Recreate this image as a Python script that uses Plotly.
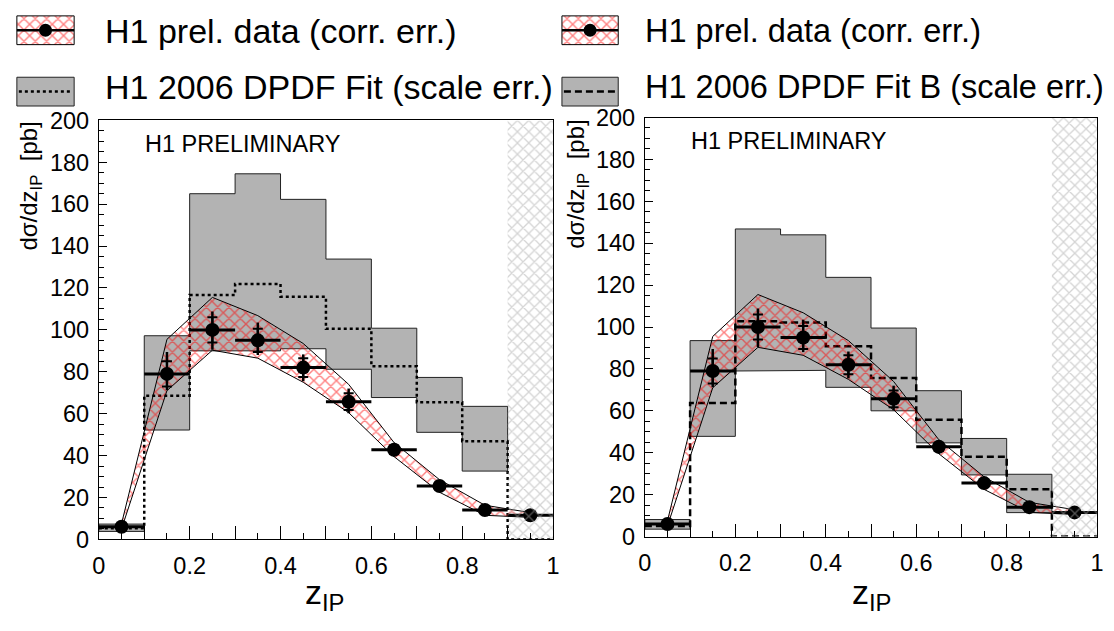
import numpy as np
import plotly.graph_objects as go

# ---------------- data ----------------
z_centers = [0.05, 0.15, 0.25, 0.35, 0.45, 0.55, 0.65, 0.75, 0.85, 0.95]
bin_halfwidth = [0.05] * 10
data_y = [6.0, 79.0, 100.0, 95.0, 82.0, 65.7, 42.8, 25.5, 14.0, 11.5]
stat_err = [0.8, 6.0, 6.0, 5.5, 4.5, 4.0, 2.0, 1.2, 0.8, 1.5]
tot_up = [1.2, 10.5, 8.8, 8.5, 6.3, 6.3, 3.3, 2.0, 1.5, 2.5]
tot_dn = [1.2, 7.8, 9.5, 7.0, 6.5, 5.5, 3.3, 2.0, 1.5, 2.5]
corr_up = [7.5, 95.5, 115.5, 106.8, 93.5, 74.0, 46.2, 28.5, 16.3, 12.8]
corr_lo = [5.0, 71.0, 90.3, 86.5, 75.0, 60.5, 39.5, 22.5, 11.5, 10.5]

# H1 2006 DPDF Fit (left panel), bins 0-0.9
fitA_up = [7.3, 97.2, 165.0, 174.5, 162.3, 133.8, 100.8, 77.3, 63.5]
fitA_lo = [3.8, 52.2, 90.0, 90.0, 91.0, 81.2, 67.7, 51.1, 32.6]
fitA_c = [5.3, 68.6, 116.6, 121.9, 115.8, 100.5, 82.7, 65.4, 46.8, 0.0]

# H1 2006 DPDF Fit B (right panel)
fitB_up = [8.1, 93.5, 146.8, 144.0, 123.7, 99.5, 69.6, 46.8, 29.7]
fitB_lo = [3.5, 47.8, 79.0, 79.3, 71.2, 60.0, 44.7, 29.4, 11.4]
fitB_c = [5.0, 63.7, 102.7, 102.2, 90.8, 75.7, 55.7, 38.1, 22.6, 0.0]

excluded_range = [0.9, 1.0]
y_range = [0, 200]

legend_data = "H1 prel. data (corr. err.)"
legend_fitA = "H1 2006 DPDF Fit (scale err.)"
legend_fitB = "H1 2006 DPDF Fit B (scale err.)"

FONT = "Liberation Sans, Arial, Helvetica, sans-serif"
GREY = "#b3b3b3"
RED_HATCH = dict(shape="x", fgcolor="#ff0000", bgcolor="rgba(0,0,0,0)", size=8, solidity=0.32)
GREY_HATCH = dict(shape="x", fgcolor="#a9a9a9", bgcolor="rgba(0,0,0,0)", size=8, solidity=0.3)

centers = np.array(z_centers)
hw = np.array(bin_halfwidth)
edges = np.round(np.append(centers - hw, centers[-1] + hw[-1]), 3)

fig = go.Figure()


def band_polygon(lo_edges, hi_edges, up, lo):
    xs, ys = [], []
    for a, b, u in zip(lo_edges, hi_edges, up):
        xs += [a, b]
        ys += [u, u]
    for a, b, l in reversed(list(zip(lo_edges, hi_edges, lo))):
        xs += [b, a]
        ys += [l, l]
    xs.append(xs[0])
    ys.append(ys[0])
    return xs, ys


def add_panel(xa, ya, f_up, f_lo, f_c, dash):
    n = len(f_up)
    bx, by = band_polygon(edges[:1], edges[1:2], f_up[:1], f_lo[:1])
    fig.add_trace(go.Scatter(x=bx, y=by, xaxis=xa, yaxis=ya, mode="lines",
                             fill="toself", fillcolor=GREY, line=dict(color="#222", width=1),
                             hoverinfo="skip", showlegend=False))
    px_, py_ = band_polygon(edges[1:n], edges[2:n + 1], f_up[1:], f_lo[1:])
    fig.add_trace(go.Scatter(x=px_, y=py_, xaxis=xa, yaxis=ya, mode="lines",
                             fill="toself", fillcolor=GREY, line=dict(color="#222", width=1),
                             hoverinfo="skip", showlegend=False))
    fig.add_trace(go.Scatter(x=list(edges), y=list(f_c) + [f_c[-1]], xaxis=xa, yaxis=ya,
                             mode="lines", line=dict(color="black", width=2.5, dash=dash, shape="hv"),
                             hoverinfo="skip", showlegend=False))
    bxs = list(centers) + list(centers[::-1]) + [centers[0]]
    bys = list(corr_up) + list(corr_lo[::-1]) + [corr_up[0]]
    fig.add_trace(go.Scatter(x=bxs, y=bys, xaxis=xa, yaxis=ya, mode="lines",
                             fill="toself", fillcolor="rgba(0,0,0,0)", fillpattern=RED_HATCH,
                             line=dict(color="black", width=1), hoverinfo="skip", showlegend=False))
    fig.add_trace(go.Scatter(x=z_centers, y=data_y, xaxis=xa, yaxis=ya, mode="markers",
                             marker=dict(size=1, color="black"),
                             error_y=dict(type="data", array=stat_err, color="black", thickness=2, width=5),
                             hoverinfo="skip", showlegend=False))
    fig.add_trace(go.Scatter(x=z_centers, y=data_y, xaxis=xa, yaxis=ya, mode="markers",
                             marker=dict(size=14, color="black"),
                             error_x=dict(type="data", array=bin_halfwidth, color="black", thickness=3, width=0),
                             error_y=dict(type="data", symmetric=False, array=tot_up,
                                          arrayminus=tot_dn, color="black", thickness=2.5, width=0),
                             hoverinfo="skip", showlegend=False))
    ex = [excluded_range[0], excluded_range[1], excluded_range[1], excluded_range[0], excluded_range[0]]
    ey = [y_range[0], y_range[0], y_range[1], y_range[1], y_range[0]]
    fig.add_trace(go.Scatter(x=ex, y=ey, xaxis=xa, yaxis=ya, mode="lines",
                             fill="toself", fillcolor="rgba(0,0,0,0)", fillpattern=GREY_HATCH,
                             line=dict(width=0, color="rgba(0,0,0,0)"), hoverinfo="skip", showlegend=False))


add_panel("x", "y", fitA_up, fitA_lo, fitA_c, "3px,3px")
add_panel("x2", "y2", fitB_up, fitB_lo, fitB_c, "7px,4px")


# ---------------- legend symbols (overlay pixel axis) ----------------
def legend_symbols(x0, x1, dash):
    xm = (x0 + x1) / 2
    fig.add_trace(go.Scatter(x=[x0, x1, x1, x0, x0], y=[3, 3, 33, 33, 3], xaxis="x3", yaxis="y3",
                             mode="lines", fill="toself", fillcolor="rgba(0,0,0,0)", fillpattern=RED_HATCH,
                             line=dict(color="black", width=1), hoverinfo="skip", showlegend=False))
    fig.add_trace(go.Scatter(x=[x0, x1], y=[18, 18], xaxis="x3", yaxis="y3", mode="lines",
                             line=dict(color="black", width=2.5), hoverinfo="skip", showlegend=False))
    fig.add_trace(go.Scatter(x=[xm], y=[18], xaxis="x3", yaxis="y3", mode="markers",
                             marker=dict(size=13, color="black"), hoverinfo="skip", showlegend=False))
    fig.add_trace(go.Scatter(x=[x0, x1, x1, x0, x0], y=[67, 67, 97, 97, 67], xaxis="x3", yaxis="y3",
                             mode="lines", fill="toself", fillcolor=GREY,
                             line=dict(color="#222", width=1), hoverinfo="skip", showlegend=False))
    fig.add_trace(go.Scatter(x=[x0 + 2, x1 - 2], y=[82, 82], xaxis="x3", yaxis="y3", mode="lines",
                             line=dict(color="black", width=2.5, dash=dash), hoverinfo="skip", showlegend=False))


legend_symbols(10, 68, "3px,3px")
legend_symbols(562, 619, "7px,4px")

W, H = 1114, 631

annotations = []
for xpx, fs, txt1, txt2 in [(97, 34, legend_data, legend_fitA), (644, 32.5, legend_data, legend_fitB)]:
    annotations.append(dict(x=xpx / W, y=1 - 19 / H, xref="paper", yref="paper", text=txt1,
                            showarrow=False, xanchor="left", yanchor="middle",
                            font=dict(family=FONT, size=fs, color="black")))
    annotations.append(dict(x=xpx / W, y=1 - 77 / H, xref="paper", yref="paper", text=txt2,
                            showarrow=False, xanchor="left", yanchor="middle",
                            font=dict(family=FONT, size=fs, color="black")))

for xpx, ypx in [(138, 137), (691, 133)]:
    annotations.append(dict(x=xpx / W, y=1 - ypx / H, xref="paper", yref="paper",
                            text="H1 PRELIMINARY", showarrow=False, xanchor="left", yanchor="middle",
                            font=dict(family=FONT, size=23.5, color="black")))

for xpx, ypx in [(24, 111), (577, 109)]:
    annotations.append(dict(x=xpx / W, y=1 - ypx / H, xref="paper", yref="paper",
                            text="dσ/dz<sub>IP</sub>  [pb]", textangle=-90, showarrow=False,
                            xanchor="center", yanchor="top",
                            font=dict(family=FONT, size=24, color="black")))

for xpx in [322, 875]:
    annotations.append(dict(x=xpx / W, y=1 - 607 / H, xref="paper", yref="paper",
                            text="z<sub>IP</sub>", showarrow=False, xanchor="center", yanchor="middle",
                            font=dict(family=FONT, size=34, color="black")))

xtickvals = [round(v, 1) for v in np.arange(0, 1.01, 0.1)]
xticktext = ["0" if v == 0 else ("1" if v == 1 else (f"{v:.1f}" if round(v * 10) % 2 == 0 else " ")) for v in xtickvals]


def xaxis(domain):
    return dict(domain=domain, range=[0, 1], tickmode="array", tickvals=xtickvals, ticktext=xticktext,
                ticks="inside", ticklen=13, tickwidth=1, tickcolor="black",
                minor=dict(dtick=0.05, ticks="inside", ticklen=6, tickwidth=1, tickcolor="black"),
                showline=True, linecolor="black", linewidth=1, mirror=True, showgrid=False,
                zeroline=False, ticklabelstandoff=5,
                tickfont=dict(family=FONT, size=23.5, color="black"), fixedrange=True)


def yaxis(domain, anchor):
    return dict(domain=domain, range=y_range, dtick=20, anchor=anchor,
                ticks="inside", ticklen=8, tickwidth=1, tickcolor="black",
                minor=dict(dtick=5, ticks="inside", ticklen=5, tickwidth=1, tickcolor="black"),
                showline=True, linecolor="black", linewidth=1, mirror=True, showgrid=False,
                zeroline=False, ticklabelstandoff=4,
                tickfont=dict(family=FONT, size=23.5, color="black"), fixedrange=True)


fig.update_layout(
    width=W, height=H, margin=dict(l=0, r=0, t=0, b=0),
    paper_bgcolor="white", plot_bgcolor="rgba(0,0,0,0)",
    xaxis=dict(xaxis([93 / W, 553 / W]), anchor="y"),
    yaxis=yaxis([1 - 549 / H, 1 - 112 / H], "x"),
    xaxis2=dict(xaxis([646 / W, 1104 / W]), anchor="y2"),
    yaxis2=yaxis([1 - 546 / H, 1 - 109 / H], "x2"),
    xaxis3=dict(domain=[0, 1], range=[0, W], visible=False, anchor="y3", fixedrange=True),
    yaxis3=dict(domain=[0, 1], range=[H, 0], visible=False, anchor="x3", fixedrange=True),
    annotations=annotations,
    showlegend=False,
)

fig.write_html("out.html")
